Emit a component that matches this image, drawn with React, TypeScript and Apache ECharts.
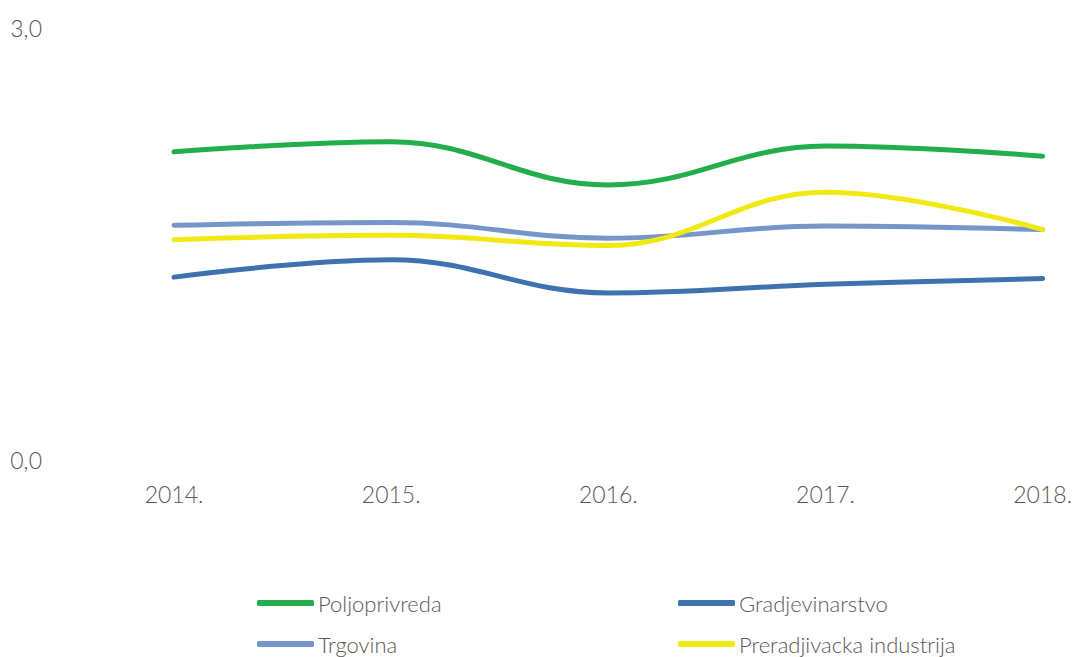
import React, { useEffect, useRef } from "react";
import * as echarts from "echarts";

const categories = ["2014.", "2015.", "2016.", "2017.", "2018."];
const poljoprivreda = [2.14, 2.21, 1.91, 2.18, 2.11];
const gradjevinarstvo = [1.27, 1.39, 1.16, 1.22, 1.26];
const trgovina = [1.63, 1.65, 1.54, 1.625, 1.6];
const preradjivacka = [1.53, 1.56, 1.49, 1.86, 1.6];

const seriesNames = ["Poljoprivreda", "Gradjevinarstvo", "Trgovina", "Preradjivacka industrija"];
const seriesColors = ["#21AE4B", "#3E72AF", "#7596C8", "#F2E914"];
const seriesData = [poljoprivreda, gradjevinarstvo, trgovina, preradjivacka];

const FONT = "Lato";
const GREY = "#595959";

export default function App() {
  const ref = useRef<HTMLDivElement>(null);
  useEffect(() => {
    if (!ref.current) return;
    const chart = echarts.init(ref.current, null, { renderer: "svg" });
    const legendPos = [
      { left: 257, top: 592 },
      { left: 678, top: 592 },
      { left: 257, top: 633 },
      { left: 678, top: 633 },
    ];
    chart.setOption({
      animation: false,
      backgroundColor: "#ffffff",
      grid: { left: 174, right: 32, top: 28, bottom: 197, containLabel: false },
      legend: seriesNames.map((name, i) => ({
        ...legendPos[i],
        padding: 0,
        data: [name],
        itemWidth: 57,
        itemHeight: 6,
        icon: "roundRect",
        textStyle: { fontFamily: FONT, fontWeight: 300, fontSize: 22, color: GREY, padding: [0, 0, 0, -1] },
      })),
      xAxis: {
        type: "category",
        data: categories,
        boundaryGap: false,
        axisLine: { show: false },
        axisTick: { show: false },
        axisLabel: { fontFamily: FONT, fontWeight: 300, fontSize: 23, color: GREY, margin: 22 },
      },
      yAxis: {
        type: "value",
        min: 0,
        max: 3,
        interval: 3,
        splitLine: { show: false },
        axisLine: { show: false },
        axisTick: { show: false },
        axisLabel: {
          fontFamily: FONT,
          fontWeight: 300,
          fontSize: 23,
          color: GREY,
          margin: 132,
          formatter: (v: number) => v.toFixed(1).replace(".", ","),
        },
      },
      series: seriesNames.map((name, i) => ({
        name,
        type: "line",
        data: seriesData[i],
        smooth: 0.4,
        symbol: "none",
        color: seriesColors[i],
        lineStyle: { width: 5, color: seriesColors[i], cap: "round" },
        z: i === 3 ? 3 : 2,
      })),
    });
    return () => chart.dispose();
  }, []);
  return <div ref={ref} style={{ width: 1075, height: 657, position: "absolute", left: 0, top: 0 }} />;
}
